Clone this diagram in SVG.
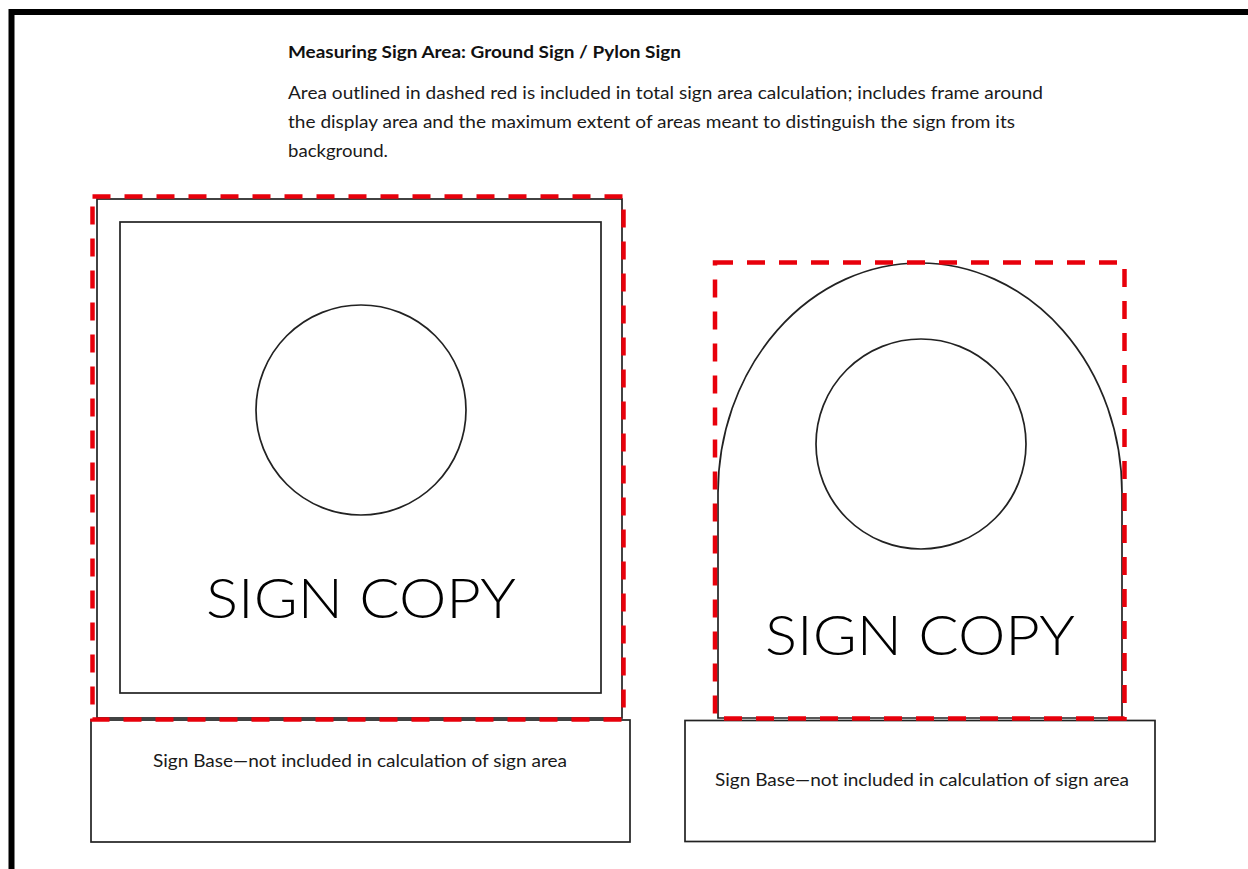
<svg xmlns="http://www.w3.org/2000/svg" width="1248" height="869" viewBox="0 0 1248 869">
  <style>
    .ln { fill: none; stroke: #222; stroke-width: 1.7; }
    .red { fill: none; stroke: #e8000b; stroke-width: 4.5; stroke-dasharray: 18 14; }
    .body { font-family: Lato, "Liberation Sans", sans-serif; font-size: 17px; fill: #1a1a1a; }
    .title { font-family: Lato, "Liberation Sans", sans-serif; font-size: 17px; font-weight: bold; fill: #111; }
    .copy { font-family: Lato, "DejaVu Sans", sans-serif; font-weight: 300; font-size: 56px; fill: #000; }
  </style>
  <rect width="1248" height="869" fill="#fff"/>
  <g id="page-border">
    <path d="M11.5 869 V12 H1248" fill="none" stroke="#000" stroke-width="6"/>
  </g>
  <g id="heading">
    <text class="title" x="288" y="58" textLength="393" lengthAdjust="spacingAndGlyphs">Measuring Sign Area: Ground Sign / Pylon Sign</text>
    <text class="body" x="288" y="99" textLength="755" lengthAdjust="spacingAndGlyphs">Area outlined in dashed red is included in total sign area calculation; includes frame around</text>
    <text class="body" x="288" y="128" textLength="727" lengthAdjust="spacingAndGlyphs">the display area and the maximum extent of areas meant to distinguish the sign from its</text>
    <text class="body" x="288" y="157" textLength="100" lengthAdjust="spacingAndGlyphs">background.</text>
  </g>
  <g id="ground-sign">
    <rect class="ln" x="97" y="199" width="525" height="519"/>
    <rect class="ln" x="120" y="222" width="481" height="471"/>
    <circle class="ln" cx="361" cy="410" r="105"/>
    <text class="copy" x="361" y="618" text-anchor="middle" textLength="310" lengthAdjust="spacingAndGlyphs">SIGN COPY</text>
  </g>
  <g id="ground-base">
    <rect class="ln" x="91" y="720" width="539" height="122"/>
    <text class="body" x="360" y="767" text-anchor="middle" textLength="414" lengthAdjust="spacingAndGlyphs">Sign Base—not included in calculation of sign area</text>
  </g>
  <g id="pylon-sign">
    <path class="ln" d="M718 718 V493 A202 230 0 0 1 1122 493 V718 Z"/>
    <circle class="ln" cx="921" cy="444" r="105"/>
    <text class="copy" x="920" y="655" text-anchor="middle" textLength="310" lengthAdjust="spacingAndGlyphs">SIGN COPY</text>
  </g>
  <g id="pylon-base">
    <rect class="ln" x="685" y="720.5" width="470" height="121"/>
    <text class="body" x="922" y="786" text-anchor="middle" textLength="414" lengthAdjust="spacingAndGlyphs">Sign Base—not included in calculation of sign area</text>
  </g>
  <g id="connectors">
    <rect class="red" x="92.5" y="196.5" width="531" height="523"/>
    <rect class="red" x="715" y="262.5" width="409.5" height="456"/>
  </g>
</svg>
